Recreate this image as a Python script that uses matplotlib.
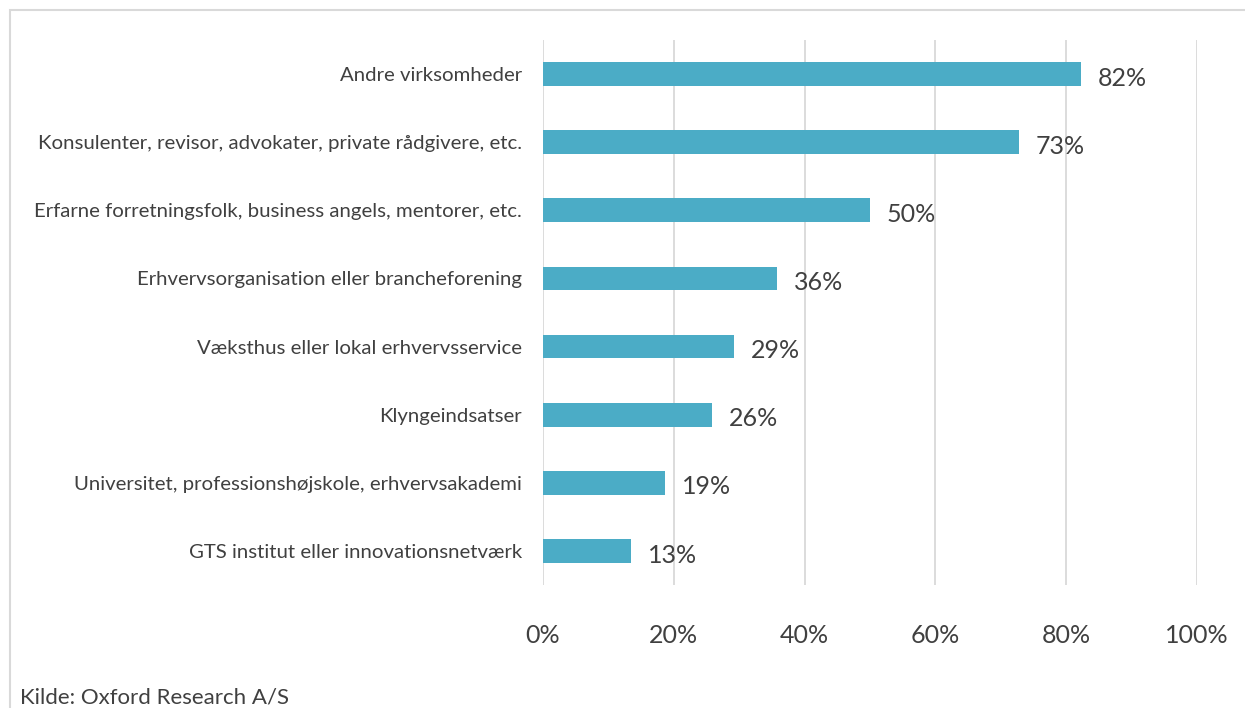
import matplotlib.pyplot as plt
from matplotlib.patches import Rectangle

categories = [
    "Andre virksomheder",
    "Konsulenter, revisor, advokater, private rådgivere, etc.",
    "Erfarne forretningsfolk, business angels, mentorer, etc.",
    "Erhvervsorganisation eller brancheforening",
    "Væksthus eller lokal erhvervsservice",
    "Klyngeindsatser",
    "Universitet, professionshøjskole, erhvervsakademi",
    "GTS institut eller innovationsnetværk",
]
values = [0.823, 0.728, 0.50, 0.358, 0.292, 0.258, 0.187, 0.135]
value_labels = ["82%", "73%", "50%", "36%", "29%", "26%", "19%", "13%"]
ticks = [0, 0.2, 0.4, 0.6, 0.8, 1.0]
tick_labels = ["0%", "20%", "40%", "60%", "80%", "100%"]
source = "Kilde: Oxford Research A/S"

plt.rcParams['font.family'] = ['Lato', 'DejaVu Sans']
txt = '#404040'

fig = plt.figure(figsize=(12.45, 7.08), dpi=100)
# outer frame of the chart box
fig.patches.append(Rectangle((10 / 1245, -0.05), 1.0, 0.05 + 1 - 10 / 708,
                             transform=fig.transFigure, fill=False,
                             edgecolor='#d9d9d9', linewidth=1.5))

ax = fig.add_axes([543 / 1245, 1 - 585 / 708, 654 / 1245, 545 / 708])
y = list(range(len(categories)))
ax.barh(y, values, height=0.35, color='#4bacc6', zorder=3)
ax.set_ylim(len(categories) - 0.5, -0.5)
ax.set_xlim(0, 1.0)

for yi, v, lab in zip(y, values, value_labels):
    ax.annotate(lab, (v, yi), xytext=(12, -3), textcoords='offset points',
                ha='left', va='center', fontsize=18, color=txt, zorder=4)

ax.set_yticks(y)
ax.set_yticklabels(categories, fontsize=14.7, color=txt)
ax.set_xticks(ticks)
ax.set_xticklabels(tick_labels, fontsize=18, color=txt)
ax.tick_params(axis='y', length=0, pad=15)
ax.tick_params(axis='x', length=0, pad=28)
ax.grid(axis='x', color='#d9d9d9', linewidth=1.3, zorder=0)
for s in ax.spines.values():
    s.set_visible(False)

fig.text(20 / 1245, 1 - 697 / 708, source, fontsize=16, color=txt,
         ha='left', va='center')

fig.savefig('out.png', dpi=100)
